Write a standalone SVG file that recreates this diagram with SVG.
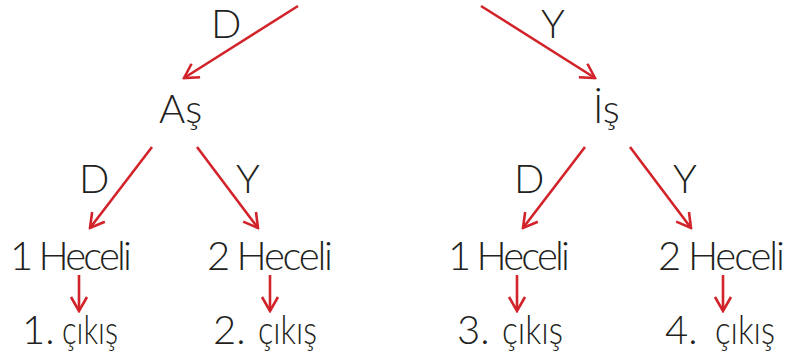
<svg xmlns="http://www.w3.org/2000/svg" width="789" height="358" viewBox="0 0 789 358">
<defs>
<style>
text{font-family:Lato,"DejaVu Sans",sans-serif;font-weight:300;font-size:40px;fill:#231f20}
.c{stroke:#d2232a;stroke-width:2.6;fill:none;stroke-linecap:butt}
</style>
<marker id="ah" viewBox="0 0 20 20" refX="18" refY="10" markerWidth="20" markerHeight="20" markerUnits="userSpaceOnUse" orient="auto">
<path d="M4,2 L18,10 L4,18" fill="none" stroke="#d2232a" stroke-width="2.6"/>
</marker>
</defs>
<rect width="789" height="358" fill="#fff"/>
<g id="connectors">
<line class="c" x1="298" y1="6" x2="184" y2="78" marker-end="url(#ah)"/>
<line class="c" x1="481" y1="6" x2="595" y2="78" marker-end="url(#ah)"/>
<line class="c" x1="152" y1="147" x2="90" y2="228" marker-end="url(#ah)"/>
<line class="c" x1="197" y1="147" x2="258" y2="228" marker-end="url(#ah)"/>
<line class="c" x1="585" y1="147" x2="523" y2="228" marker-end="url(#ah)"/>
<line class="c" x1="630" y1="147" x2="691" y2="228" marker-end="url(#ah)"/>
<line class="c" x1="79" y1="275" x2="79" y2="311" marker-end="url(#ah)"/>
<line class="c" x1="270" y1="275" x2="270" y2="311" marker-end="url(#ah)"/>
<line class="c" x1="517" y1="275" x2="517" y2="311" marker-end="url(#ah)"/>
<line class="c" x1="723" y1="275" x2="723" y2="311" marker-end="url(#ah)"/>
</g>
<g id="labels">
<text x="211" y="38">D</text>
<text x="541" y="38">Y</text>
<text x="79" y="193">D</text>
<text x="236" y="193">Y</text>
<text x="514" y="193">D</text>
<text x="673" y="193">Y</text>
</g>
<g id="n-as"><text x="159" y="123">Aş</text></g>
<g id="n-is"><text x="593" y="123">İş</text></g>
<g id="n-1h-a"><text x="10" y="270" textLength="122">1 Heceli</text></g>
<g id="n-2h-a"><text x="207" y="270" textLength="126">2 Heceli</text></g>
<g id="n-1h-b"><text x="448" y="270" textLength="122">1 Heceli</text></g>
<g id="n-2h-b"><text x="658" y="270" textLength="127">2 Heceli</text></g>
<g id="n-c1"><text x="22" y="344">1.<tspan x="62" textLength="56" lengthAdjust="spacingAndGlyphs">çıkış</tspan></text></g>
<g id="n-c2"><text x="213" y="344">2.<tspan x="258" textLength="59" lengthAdjust="spacingAndGlyphs">çıkış</tspan></text></g>
<g id="n-c3"><text x="457" y="344">3.<tspan x="502" textLength="61" lengthAdjust="spacingAndGlyphs">çıkış</tspan></text></g>
<g id="n-c4"><text x="665" y="344">4.<tspan x="715" textLength="60" lengthAdjust="spacingAndGlyphs">çıkış</tspan></text></g>
</svg>
